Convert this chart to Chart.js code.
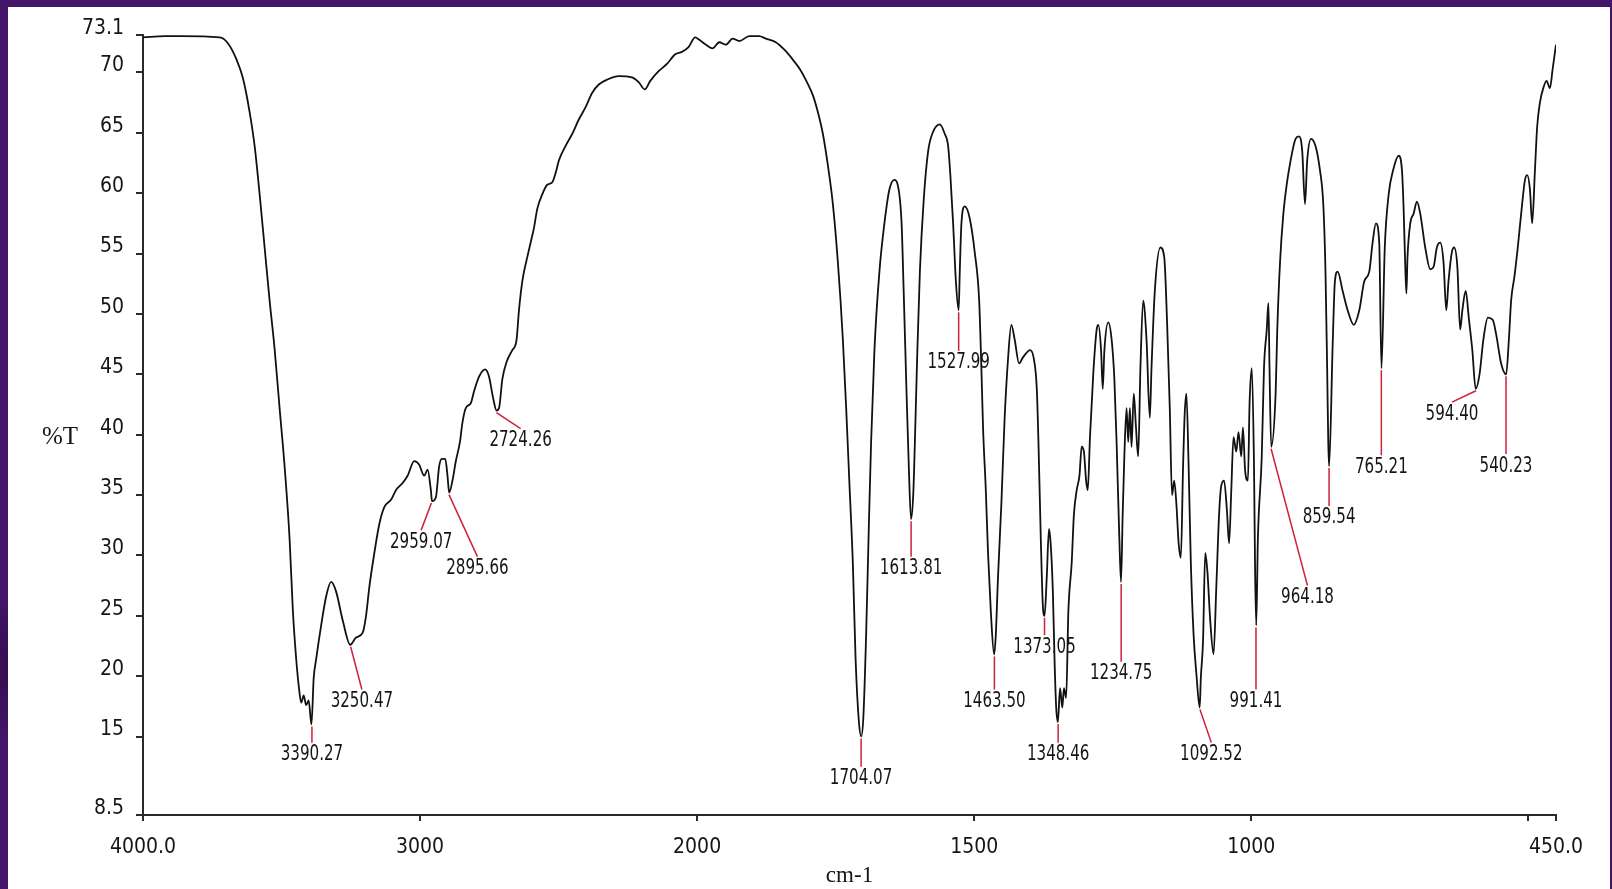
<!DOCTYPE html>
<html lang="en">
<head>
    <meta charset="UTF-8">
    <title>IR spectrum</title>
    <script src="https://cdn.jsdelivr.net/npm/chart.js"></script>
    <style>
        html, body {
            margin: 0;
            width: 1612px;
            height: 889px;
            overflow: hidden;
        }
        body {
            position: relative;
            background-color: #45156a;
            background-image:
                radial-gradient(circle at 10% 20%, rgba(110, 50, 160, 0.7) 0, transparent 6%),
                radial-gradient(circle at 60% 10%, rgba(30, 5, 50, 0.6) 0, transparent 5%),
                radial-gradient(circle at 85% 70%, rgba(120, 60, 170, 0.6) 0, transparent 7%),
                radial-gradient(circle at 3% 75%, rgba(25, 5, 45, 0.7) 0, transparent 5%);
        }
        .panel {
            position: absolute;
            left: 8px;
            top: 7px;
            width: 1602px;
            height: 882px;
            background: #ffffff;
        }
        canvas {
            position: absolute;
            left: 0;
            top: 0;
        }
    </style>
</head>
<body>
    <div class="panel"></div>
    <canvas id="spectrum" width="1612" height="889"></canvas>

    <script>
        // spectrum (cm-1 / %T)
        const wavenumbers = [
            4000, 3921, 3867, 3723, 3693, 3663, 3639, 3615, 3597, 3579, 3561, 3543, 3525, 3507, 3489, 3471,
            3459, 3447, 3437, 3429, 3420, 3411, 3402, 3392, 3384, 3375, 3357, 3339, 3321, 3303, 3279, 3252,
            3231, 3207, 3195, 3183, 3165, 3147, 3129, 3105, 3087, 3063, 3045, 3021, 3003, 2985, 2973, 2961,
            2957, 2943, 2931, 2921, 2909, 2901, 2895, 2883, 2871, 2856, 2847, 2835, 2817, 2805, 2787, 2765,
            2751, 2736, 2724, 2715, 2703, 2688, 2667, 2652, 2643, 2631, 2613, 2601, 2589, 2577, 2559, 2541,
            2523, 2508, 2499, 2475, 2451, 2427, 2403, 2379, 2355, 2325, 2283, 2235, 2211, 2189, 2169, 2139,
            2109, 2079, 2055, 2031, 2007,
            1996, 1984, 1972, 1960, 1948, 1936, 1924, 1906, 1888, 1876, 1858, 1843, 1828, 1815, 1803, 1791,
            1782, 1773, 1764, 1755, 1746, 1737, 1731, 1725, 1719, 1714, 1708, 1704, 1700, 1695, 1690, 1686,
            1680, 1671, 1662, 1653, 1644, 1638, 1631, 1627, 1622, 1618, 1614, 1610, 1607, 1603, 1598, 1591,
            1583, 1574, 1562, 1553, 1547, 1543, 1538, 1533, 1528, 1526, 1523, 1517, 1508, 1499, 1491, 1487,
            1484, 1479, 1475, 1470, 1464, 1461, 1457, 1451, 1445, 1439, 1433, 1427, 1419, 1412, 1399, 1392,
            1387, 1384, 1380, 1376, 1373, 1369, 1365, 1362, 1358, 1355, 1352, 1349, 1345, 1341, 1338, 1334,
            1330, 1324, 1320, 1315, 1310, 1306, 1302, 1298, 1295, 1291, 1285, 1279, 1276, 1271, 1268, 1265,
            1258, 1252, 1247, 1243, 1238, 1235, 1232, 1229, 1225, 1222, 1219, 1216, 1212, 1208, 1204, 1200,
            1195, 1189, 1183, 1180, 1174, 1164, 1157, 1152, 1147, 1143, 1139, 1135, 1131, 1127, 1123, 1120,
            1117, 1113, 1109, 1104, 1099, 1093, 1091, 1087, 1083, 1079, 1074, 1068, 1063, 1058, 1054, 1049,
            1044, 1040, 1036, 1032, 1027, 1023, 1018, 1015, 1011, 1006, 1003, 999, 995, 993, 991, 988,
            981, 977, 972, 969, 967, 964, 956, 953, 948, 942, 936, 929, 920, 914, 908, 903,
            899, 892, 884, 876, 870, 866, 863, 861, 859.5, 853, 849, 844, 835, 826, 815, 805,
            796, 787, 781, 775, 769, 765, 759, 752, 744, 734, 728, 725, 722, 720, 718, 713,
            707, 701, 695, 686, 677, 671, 665, 659, 653, 648, 644, 638, 634, 628, 623, 619,
            613, 607, 601, 595, 588, 581, 573, 564, 558, 549, 540, 535, 531, 525, 519, 512,
            506, 502, 497, 493, 488, 484, 479, 473, 467, 461, 456, 450
        ];
        const transmittance = [
            72.9, 73.0, 73.0, 72.9, 72.4, 71.1, 69.5, 66.7, 63.9, 59.9, 55.5, 51.1, 47.1, 42.2, 37.4, 31.4,
            25.4, 21.4, 19.0, 17.8, 18.4, 17.6, 18.0, 16.0, 19.8, 21.4, 24.2, 26.6, 27.8, 27.0, 24.6, 22.6,
            23.2, 23.6, 25.0, 27.4, 30.2, 32.6, 34.0, 34.6, 35.4, 36.0, 36.6, 37.8, 37.5, 36.6, 37.1, 35.4,
            34.5, 34.8, 37.4, 38.0, 38.0, 36.6, 35.2, 36.2, 37.8, 39.4, 41.0, 42.2, 42.6, 43.6, 44.8, 45.4,
            44.8, 43.0, 42.0, 42.2, 44.6, 46.0, 47.0, 47.8, 50.3, 52.7, 54.7, 55.9, 57.1, 58.7, 59.9, 60.7,
            60.9, 61.9, 62.7, 63.9, 64.9, 66.1, 67.1, 68.3, 69.0, 69.4, 69.7, 69.6, 69.2, 68.6, 69.3, 70.1,
            70.7, 71.5, 71.7, 72.1, 72.9,
            72.7, 72.3, 72.0, 72.5, 72.3, 72.8, 72.6, 73.0, 73.0, 72.8, 72.5, 71.9, 71.1, 70.3, 69.3, 68.1,
            66.7, 64.9, 62.3, 59.1, 54.3, 47.9, 42.2, 35.8, 29.4, 21.4, 16.2, 15.0, 16.6, 23.4, 32.6, 39.4,
            47.0, 53.5, 57.5, 60.3, 61.1, 60.7, 57.5, 51.5, 43.4, 37.4, 33.0, 35.0, 39.4, 46.2, 53.5, 59.5,
            63.5, 65.1, 65.7, 64.9, 63.9, 61.5, 57.5, 52.7, 50.3, 53.5, 57.5, 58.9, 57.9, 55.1, 51.1, 45.5,
            40.6, 35.4, 30.2, 25.4, 21.8, 23.4, 28.2, 34.2, 41.4, 46.2, 49.1, 47.9, 45.9, 46.4, 47.0, 46.2,
            43.8, 39.4, 31.8, 25.8, 25.0, 28.2, 32.2, 31.0, 27.0, 21.4, 17.4, 16.2, 19.0, 17.4, 19.0, 18.2,
            25.4, 29.4, 33.4, 35.4, 36.6, 39.0, 38.6, 36.2, 35.4, 39.8, 45.1, 48.7, 49.1, 47.0, 43.8, 47.0,
            49.3, 47.9, 44.6, 39.4, 31.4, 27.8, 33.4, 38.2, 42.2, 39.4, 42.2, 39.0, 43.4, 40.6, 38.2, 45.5,
            51.1, 47.9, 41.4, 45.5, 51.9, 55.5, 54.7, 49.5, 42.2, 35.0, 36.2, 34.2, 31.0, 29.8, 37.4, 41.8,
            43.4, 37.4, 29.4, 23.4, 20.2, 17.4, 19.8, 22.9, 30.2, 28.6, 24.6, 21.8, 27.4, 33.4, 35.8, 36.2,
            33.8, 31.0, 35.4, 39.8, 38.6, 40.2, 38.2, 40.6, 37.0, 36.2, 42.6, 45.5, 37.4, 28.6, 24.2, 31.4,
            38.2, 45.5, 48.7, 50.9, 45.5, 39.0, 43.4, 48.7, 54.3, 58.3, 60.7, 62.7, 64.5, 64.7, 63.5, 59.1,
            62.7, 64.5, 63.9, 61.9, 59.1, 53.5, 45.5, 39.4, 37.4, 47.5, 52.7, 53.5, 51.9, 50.3, 49.1, 50.3,
            52.7, 53.5, 55.9, 57.5, 55.9, 45.5, 55.5, 59.9, 61.9, 63.1, 61.9, 58.7, 53.9, 51.7, 54.7, 57.5,
            58.3, 59.3, 58.3, 55.5, 53.7, 53.9, 55.5, 55.9, 54.3, 50.3, 52.7, 55.1, 55.5, 53.9, 48.7, 50.3,
            51.9, 49.5, 47.0, 43.8, 45.0, 47.9, 49.7, 49.5, 48.3, 45.9, 45.0, 47.9, 51.1, 53.1, 55.5, 58.7,
            61.1, 61.5, 60.3, 57.5, 61.9, 65.5, 67.5, 68.7, 69.3, 68.7, 70.3, 72.3
        ];

        // picked peaks: label, curve minimum, where the label text sits
        const peakLabels = ['3390.27', '3250.47', '2959.07', '2895.66', '2724.26', '1704.07', '1613.81',
            '1527.99', '1463.50', '1373.05', '1348.46', '1234.75', '1092.52', '991.41', '964.18', '859.54',
            '765.21', '594.40', '540.23'];
        const peakWn = [3390.27, 3250.47, 2959.07, 2895.66, 2724.26, 1704.07, 1613.81, 1527.99, 1463.50,
            1373.05, 1348.46, 1234.75, 1092.52, 991.41, 964.18, 859.54, 765.21, 594.40, 540.23];
        const peakT = [16.0, 22.6, 34.5, 35.2, 42.0, 15.0, 33.0, 50.3, 21.8, 25.0, 16.2, 27.8, 17.4, 24.2,
            39.0, 37.4, 45.5, 43.8, 45.0];
        const labelWn = [3390.27, 3210, 2996, 2793, 2637, 1704.07, 1613.81, 1527.99, 1463.50, 1373.05,
            1348.46, 1234.75, 1072, 991.41, 898.5, 859.54, 765.21, 637.7, 540.23];
        const labelT = [13.5, 17.9, 31.1, 28.9, 39.5, 11.5, 28.9, 45.95, 17.9, 22.4, 13.5, 20.2, 13.5, 17.9,
            26.5, 33.1, 37.3, 41.7, 37.4];

        // axes
        const xTickValues = [4000, 3000, 2000, 1500, 1000, 500, 450];
        const xTickLabels = ['4000.0', '3000', '2000', '1500', '1000', '', '450.0'];
        const yTickValues = [73.1, 70, 65, 60, 55, 50, 45, 40, 35, 30, 25, 20, 15, 8.5];
        const yTickLabels = ['73.1', '70', '65', '60', '55', '50', '45', '40', '35', '30', '25', '20', '15', '8.5'];

        // below 2000 cm-1 the spectrometer plots at double scale
        const X_MAX = 4000, X_MIN = 450, X_BREAK = 2000, X_STRETCH = 2;

        function toUnits(v) {
            return v >= X_BREAK ? (v - X_BREAK) + (X_BREAK - X_MIN) * X_STRETCH
                                : (v - X_MIN) * X_STRETCH;
        }
        const TOTAL_UNITS = toUnits(X_MAX);

        class SplitScale extends Chart.LinearScale {
            getPixelForValue(value) {
                const frac = 1 - toUnits(value) / TOTAL_UNITS;
                return this.left + frac * (this.right - this.left);
            }
            getValueForPixel(pixel) {
                const u = (1 - (pixel - this.left) / (this.right - this.left)) * TOTAL_UNITS;
                const uBreak = (X_BREAK - X_MIN) * X_STRETCH;
                return u >= uBreak ? X_BREAK + (u - uBreak) : X_MIN + u / X_STRETCH;
            }
        }
        SplitScale.id = 'splitLinear';
        SplitScale.defaults = {};
        Chart.register(SplitScale);

        const NARROW = "'DejaVu Sans Condensed', 'Liberation Sans', sans-serif";
        const SERIF = "'Liberation Serif', 'DejaVu Serif', serif";

        const peakMarks = {
            id: 'peakMarks',
            afterDatasetsDraw(chart) {
                const { ctx, chartArea, scales: { x, y } } = chart;
                ctx.save();
                ctx.textAlign = 'center';
                ctx.textBaseline = 'middle';
                peakWn.forEach((wn, i) => {
                    const x0 = x.getPixelForValue(wn);
                    const y0 = y.getPixelForValue(peakT[i]);
                    const lx = x.getPixelForValue(labelWn[i]);
                    const ly = y.getPixelForValue(labelT[i]);
                    ctx.strokeStyle = '#cc2236';
                    ctx.lineWidth = 1.5;
                    ctx.beginPath();
                    ctx.moveTo(x0, y0 + 2);
                    ctx.lineTo(lx, ly - 12);
                    ctx.stroke();
                    // the instrument font is narrow, so squeeze the text a little
                    ctx.save();
                    ctx.translate(lx, ly);
                    ctx.scale(0.8, 1);
                    ctx.font = '21px ' + NARROW;
                    ctx.fillStyle = '#151515';
                    ctx.fillText(peakLabels[i], 0, 0);
                    ctx.restore();
                });
                ctx.font = '25px ' + SERIF;
                ctx.fillStyle = '#151515';
                ctx.fillText('%T', chartArea.left - 83, (chartArea.top + chartArea.bottom) / 2 + 12);
                ctx.restore();
            }
        };

        const ctx = document.getElementById('spectrum').getContext('2d');
        const spectrumChart = new Chart(ctx, {
            type: 'line',
            data: {
                datasets: [{
                    data: wavenumbers.map((w, i) => ({ x: w, y: transmittance[i] })),
                    borderColor: '#111111',
                    borderWidth: 1.8,
                    pointRadius: 0,
                    fill: false,
                    cubicInterpolationMode: 'monotone'
                }]
            },
            options: {
                responsive: false,
                animation: false,
                devicePixelRatio: 1,
                layout: { padding: { left: 0, right: 56, top: 35, bottom: 0 } },
                plugins: {
                    legend: { display: false },
                    tooltip: { enabled: false }
                },
                scales: {
                    x: {
                        type: 'splitLinear',
                        min: X_MIN,
                        max: X_MAX,
                        afterBuildTicks: scale => {
                            scale.ticks = xTickValues.map(v => ({ value: v }));
                        },
                        afterFit: scale => { scale.height = 74; },
                        border: { display: true, color: '#2a2a2a', width: 2 },
                        grid: { drawOnChartArea: false, drawTicks: true, tickLength: 6, color: '#2a2a2a', lineWidth: 2 },
                        ticks: {
                            autoSkip: false,
                            maxRotation: 0,
                            padding: 16,
                            color: '#151515',
                            font: { family: NARROW, size: 21, lineHeight: 1 },
                            callback: (v, i) => xTickLabels[i]
                        },
                        title: {
                            display: true,
                            text: 'cm-1',
                            color: '#151515',
                            font: { family: SERIF, size: 23, lineHeight: 1 },
                            padding: { top: 0, bottom: 1.5 }
                        }
                    },
                    y: {
                        min: 8.5,
                        max: 73.1,
                        afterBuildTicks: scale => {
                            scale.ticks = yTickValues.map(v => ({ value: v }));
                        },
                        afterFit: scale => { scale.width = 143; },
                        border: { display: true, color: '#2a2a2a', width: 2 },
                        grid: { drawOnChartArea: false, drawTicks: true, tickLength: 7, color: '#2a2a2a', lineWidth: 2 },
                        ticks: {
                            autoSkip: false,
                            padding: 12,
                            color: '#151515',
                            // the labels sit just above their tick: an empty second line lifts them
                            font: { family: NARROW, size: 21, lineHeight: '13px' },
                            callback: (v, i) => [yTickLabels[i], '']
                        }
                    }
                }
            },
            plugins: [peakMarks]
        });
    </script>
</body>
</html>
